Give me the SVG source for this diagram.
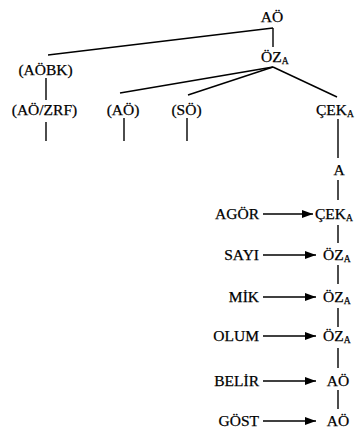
<svg xmlns="http://www.w3.org/2000/svg" width="355" height="430" viewBox="0 0 355 430">
<style>
text{font-family:"Liberation Serif","Tinos","DejaVu Serif",serif;font-size:15.5px;fill:#000;stroke:#000;stroke-width:0.25}
.m{text-anchor:middle}
.e{text-anchor:end}
.sub{font-size:9.5px}
.c line{stroke:#000;stroke-width:1.4}
.c line.arr{stroke-width:1.6}
</style>
<defs>
<marker id="ah" markerUnits="userSpaceOnUse" markerWidth="11" markerHeight="8" refX="11" refY="4" orient="auto">
<path d="M0,0 L11,4 L0,8 z" fill="#000"/>
</marker>
</defs>
<rect width="355" height="430" fill="#fff"/>
<g id="connectors" class="c">
<line x1="273" y1="28" x2="273" y2="47"/>
<line x1="273" y1="28" x2="48" y2="55"/>
<line x1="46" y1="78" x2="46" y2="100"/>
<line x1="46" y1="122" x2="46" y2="141"/>
<line x1="124" y1="118" x2="124" y2="141"/>
<line x1="187" y1="118" x2="187" y2="141"/>
<line x1="273" y1="67" x2="120" y2="93"/>
<line x1="273" y1="67" x2="188" y2="95"/>
<line x1="273" y1="67" x2="337" y2="97"/>
<line x1="338" y1="119" x2="338" y2="158"/>
<line x1="338" y1="180" x2="338" y2="200"/>
<line x1="338" y1="225" x2="338" y2="243"/>
<line x1="338" y1="265" x2="338" y2="284"/>
<line x1="338" y1="308" x2="338" y2="327"/>
<line x1="338" y1="348" x2="338" y2="368"/>
<line x1="338" y1="390" x2="338" y2="409"/>
<line class="arr" x1="263" y1="214" x2="313" y2="214" marker-end="url(#ah)"/>
<line class="arr" x1="263" y1="255" x2="316" y2="255" marker-end="url(#ah)"/>
<line class="arr" x1="263" y1="297" x2="316" y2="297" marker-end="url(#ah)"/>
<line class="arr" x1="263" y1="336" x2="316" y2="336" marker-end="url(#ah)"/>
<line class="arr" x1="263" y1="381" x2="316" y2="381" marker-end="url(#ah)"/>
<line class="arr" x1="263" y1="421" x2="316" y2="421" marker-end="url(#ah)"/>
</g>
<g id="n-ao-root"><text class="m" x="272" y="22">AÖ</text></g>
<g id="n-oz-root"><text x="261" y="62">ÖZ<tspan class="sub" dy="2">A</tspan></text></g>
<g id="n-aobk"><text class="m" x="45.5" y="75">(AÖBK)</text></g>
<g id="n-aozrf"><text class="m" x="44.5" y="115">(AÖ/ZRF)</text></g>
<g id="n-ao-paren"><text class="m" x="123" y="115">(AÖ)</text></g>
<g id="n-so"><text class="m" x="186.5" y="115">(SÖ)</text></g>
<g id="n-cek-top"><text x="316" y="115">ÇEK<tspan class="sub" dy="2">A</tspan></text></g>
<g id="n-a"><text class="m" x="339" y="175">A</text></g>
<g id="n-agor"><text class="e" x="259" y="219">AGÖR</text></g>
<g id="n-cek"><text x="315" y="219">ÇEK<tspan class="sub" dy="2">A</tspan></text></g>
<g id="n-sayi"><text class="e" x="259" y="260">SAYI</text></g>
<g id="n-oz1"><text x="323" y="260">ÖZ<tspan class="sub" dy="2">A</tspan></text></g>
<g id="n-mik"><text class="e" x="259" y="302">MİK</text></g>
<g id="n-oz2"><text x="323" y="302">ÖZ<tspan class="sub" dy="2">A</tspan></text></g>
<g id="n-olum"><text class="e" x="259" y="341">OLUM</text></g>
<g id="n-oz3"><text x="323" y="341">ÖZ<tspan class="sub" dy="2">A</tspan></text></g>
<g id="n-belir"><text class="e" x="259" y="386">BELİR</text></g>
<g id="n-ao1"><text class="m" x="338" y="386">AÖ</text></g>
<g id="n-gost"><text class="e" x="259" y="426">GÖST</text></g>
<g id="n-ao2"><text class="m" x="338" y="426">AÖ</text></g>
</svg>
